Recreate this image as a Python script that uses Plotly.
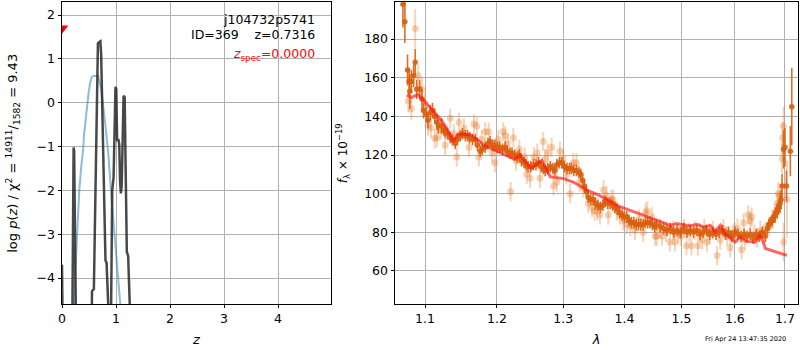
import plotly.graph_objects as go

# ---------------- left panel data: log p(z) ----------------
z_chi = [0.0, 0.005, 0.012, 0.19, 0.205, 0.215, 0.225, 0.245, 0.26, 0.55, 0.555, 0.59, 0.605,
         0.64, 0.665, 0.685, 0.71, 0.725, 0.76, 0.795, 0.805, 0.825, 0.84, 0.875, 0.905, 0.93,
         0.955, 0.975, 0.99, 1.005, 1.02, 1.045, 1.06, 1.075, 1.09, 1.105, 1.13, 1.14, 1.16,
         1.19, 1.2, 1.225, 1.26, 1.27, 4.98]
logp_chi = [-3.7, -4.4, -5.2, -5.2, -2.5, -1.02, -1.1, -3.5, -5.2, -5.2, -4.3, -4.25, -3.0,
            -0.5, 1.35, 1.38, 1.4, 1.1, -1.2, -2.9, -3.6, -3.65, -4.0, -5.2, -5.2, -2.0,
            -1.7, 0.0, 0.36, 0.3, -0.85, -0.85, -0.95, -1.8, -2.07, -1.9, 0.0, 0.16, 0.12,
            -2.2, -3.4, -3.5, -4.6, -5.2, -5.2]

z_pz = [0.21, 0.24, 0.28, 0.32, 0.36, 0.39, 0.41, 0.46, 0.49, 0.52, 0.55, 0.58, 0.67,
        0.70, 0.73, 0.80, 0.86, 0.92, 0.98, 1.04, 1.09, 1.12]
logp_pz = [-5.2, -4.0, -3.0, -2.0, -1.4, -1.09, -0.71, -0.1, 0.2, 0.45, 0.58, 0.61, 0.61,
           0.45, 0.27, -0.48, -1.2, -2.23, -3.1, -3.9, -4.6, -5.2]

z_spec_marker = [0.0]
logp_spec_marker = [1.7]

# ---------------- right panel data: spectrum ----------------
lam_dark = [1.071, 1.0735, 1.077, 1.079, 1.080, 1.082, 1.085, 1.087, 1.089, 1.093, 1.096, 1.098,
            1.102, 1.104, 1.107, 1.110, 1.113, 1.116, 1.118, 1.122, 1.125, 1.127, 1.130, 1.134,
            1.137, 1.141, 1.144, 1.148, 1.151, 1.155, 1.158, 1.161, 1.165, 1.169, 1.172, 1.176,
            1.179, 1.183, 1.187, 1.190, 1.194, 1.197, 1.201, 1.204, 1.208, 1.212, 1.215, 1.219,
            1.222, 1.226, 1.230, 1.233, 1.236, 1.240, 1.243, 1.246, 1.250, 1.254, 1.258, 1.262,
            1.266, 1.269, 1.272, 1.276, 1.280, 1.284, 1.287, 1.290, 1.294, 1.298, 1.302, 1.306,
            1.310, 1.313, 1.317, 1.321, 1.325, 1.328, 1.331, 1.334, 1.337, 1.340, 1.344, 1.348,
            1.352, 1.356, 1.360, 1.364, 1.368, 1.372, 1.376, 1.380, 1.384, 1.388, 1.392, 1.396,
            1.400, 1.404, 1.408, 1.412, 1.416, 1.420, 1.424, 1.428, 1.432, 1.436, 1.440, 1.444,
            1.448, 1.452, 1.455, 1.462, 1.468, 1.474, 1.480, 1.486, 1.492, 1.498, 1.504, 1.510,
            1.516, 1.522, 1.528, 1.534, 1.540, 1.546, 1.552, 1.558, 1.564, 1.570, 1.576, 1.582,
            1.588, 1.594, 1.600, 1.606, 1.612, 1.618, 1.624, 1.630, 1.636, 1.642, 1.648, 1.654,
            1.660, 1.664, 1.667, 1.670, 1.674, 1.677, 1.680, 1.684, 1.687, 1.690, 1.692, 1.694,
            1.697, 1.700, 1.703, 1.711, 1.714]
flux_dark = [198, 189, 164, 158, 153, 158, 161, 168, 154, 154, 149, 143,
             141, 138, 142, 143, 140, 137, 135, 135, 133, 132, 131, 129,
             128, 126, 128, 130, 131, 130, 130, 129, 128, 128, 125, 122,
             123, 124, 126, 127, 125, 125, 124, 124, 123, 124, 122, 121,
             121, 120, 119, 120, 117, 116, 115, 114, 114, 115, 115, 116,
             114, 113, 112, 113, 114, 113, 112, 115, 116, 116, 114, 113,
             113, 113, 112, 112, 111, 110, 107, 104, 101, 98, 97, 97,
             95, 94, 93, 94, 96, 95, 95, 94, 93, 92, 90, 89,
             88, 88, 86, 85, 85, 84, 84, 84, 84, 85, 85, 85,
             84, 83, 84, 83, 82, 81, 82, 80, 81, 80, 82, 80,
             81, 80, 81, 79, 80, 81, 79, 80, 79, 80, 81, 79,
             80, 78, 80, 79, 78, 79, 78, 79, 77, 79, 78, 80,
             78, 82, 84, 85, 86, 88, 89, 91, 93, 95, 97, 104,
             123, 124, 104, 122, 145]
err_dark = [12, 11, 8, 7, 9, 6, 6, 7, 5, 5, 5, 4,
            4, 4, 4, 4, 4, 4, 4, 4, 3, 3, 3, 3,
            3, 3, 3, 3, 3, 3, 3, 3, 3, 3, 3, 3,
            3, 3, 3, 3, 3, 3, 3, 3, 3, 3, 3, 3,
            3, 3, 3, 3, 3, 3, 3, 3, 3, 3, 3, 3,
            3, 3, 3, 3, 3, 3, 3, 3, 3, 3, 3, 3,
            3, 3, 3, 3, 3, 3, 3, 3, 3, 3, 3, 3,
            3, 3, 3, 3, 3, 3, 3, 3, 3, 3, 3, 3,
            3, 3, 3, 3, 3, 3, 3, 3, 3, 3, 3, 3,
            3, 3, 3, 3, 3, 3, 3, 3, 3, 3, 3, 3,
            3, 3, 3, 3, 3, 3, 3, 3, 3, 3, 3, 3,
            3, 3, 3, 3, 3, 3, 3, 3, 3, 3, 3, 3,
            3, 3, 3, 3, 3, 3, 4, 4, 4, 5, 5, 6,
            10, 10, 8, 13, 20]

lam_light = [1.078, 1.082, 1.087, 1.091, 1.096, 1.100, 1.104, 1.108, 1.113, 1.116, 1.121, 1.127,
             1.134, 1.139, 1.143, 1.146, 1.153, 1.160, 1.167, 1.171, 1.174, 1.178, 1.183, 1.188,
             1.193, 1.197, 1.202, 1.209, 1.212, 1.216, 1.220, 1.224, 1.228, 1.233, 1.241, 1.244,
             1.249, 1.255, 1.260, 1.264, 1.269, 1.272, 1.276, 1.282, 1.285, 1.290, 1.295, 1.300,
             1.305, 1.311, 1.316, 1.321, 1.326, 1.332, 1.340, 1.346, 1.350, 1.354, 1.359, 1.365,
             1.370, 1.373, 1.378, 1.381, 1.387, 1.392, 1.398, 1.404, 1.410, 1.418, 1.425, 1.432,
             1.436, 1.439, 1.447, 1.453, 1.456, 1.461, 1.465, 1.472, 1.479, 1.485, 1.488, 1.494,
             1.499, 1.505, 1.509, 1.514, 1.518, 1.524, 1.530, 1.534, 1.538, 1.542, 1.547, 1.552,
             1.558, 1.566, 1.572, 1.578, 1.585, 1.591, 1.596, 1.600, 1.605, 1.613, 1.617, 1.620,
             1.626, 1.630, 1.633, 1.638, 1.644, 1.650, 1.656, 1.660, 1.668, 1.675, 1.680, 1.684,
             1.686, 1.690, 1.694, 1.695, 1.697, 1.697, 1.704]
flux_light = [148, 144, 185.5, 161, 154, 147, 135, 134, 128.5, 129, 133, 125,
              139, 131, 119, 137, 134, 124, 136, 135, 119, 128, 132, 132,
              121, 116, 128, 132, 130, 126, 101, 129, 117, 123, 119, 110,
              108, 119, 121, 108, 127, 118, 121, 124, 104, 106, 122, 118,
              110, 100, 116, 116, 106, 103, 95, 93, 91, 91, 89, 102,
              99, 89, 97, 97, 91, 89, 86, 84, 83, 81, 87, 80,
              90, 91, 88, 78, 78, 82, 78, 80, 75, 81, 75, 79,
              78, 82, 73, 80, 73, 81, 73, 80, 76, 82, 75, 79,
              81, 68, 76, 82, 78, 72, 79, 80, 82, 71, 85, 76,
              89, 86, 88, 79, 77, 81, 79, 80, 83, 87, 90, 95,
              100, 99, 118, 129, 135, 75, 97]
err_light = [6, 6, 10, 6, 6, 5, 5, 5, 5, 5, 5, 5,
             5, 5, 5, 5, 5, 5, 5, 5, 5, 5, 5, 5,
             5, 5, 5, 5, 5, 5, 5, 5, 5, 5, 5, 5,
             5, 5, 5, 5, 5, 5, 5, 5, 5, 5, 5, 5,
             5, 5, 5, 5, 5, 5, 5, 5, 5, 5, 5, 5,
             5, 5, 5, 5, 5, 5, 5, 5, 5, 5, 5, 5,
             5, 5, 5, 5, 5, 5, 5, 5, 5, 5, 5, 5,
             5, 5, 5, 5, 5, 5, 5, 5, 5, 5, 5, 5,
             5, 5, 5, 5, 5, 5, 5, 5, 5, 5, 5, 5,
             5, 5, 5, 5, 5, 5, 5, 5, 5, 5, 5, 5,
             6, 6, 8, 8, 10, 10, 20]

lam_model = [1.076, 1.082, 1.091, 1.104, 1.122, 1.131, 1.138, 1.145, 1.164, 1.182, 1.207, 1.226,
             1.234, 1.251, 1.267, 1.280, 1.301, 1.316, 1.338, 1.357, 1.373, 1.390, 1.425, 1.456,
             1.480, 1.491, 1.516, 1.528, 1.541, 1.553, 1.562, 1.572, 1.581, 1.601, 1.610, 1.623,
             1.640, 1.649, 1.656, 1.660, 1.677, 1.704]
flux_model = [151, 149.8, 151.3, 145.8, 138, 132.8, 126.8, 131, 130.3, 125, 120.8, 117.8,
              119.9, 113, 117.3, 108.7, 107.8, 106, 101.8, 99.2, 96.6, 93.5, 89.7, 86.2,
              83.6, 84.5, 83.3, 84.1, 82.7, 83.6, 80.2, 83.6, 79.3, 75, 77.6, 75.3,
              75, 78.4, 75, 71.6, 70.3, 68.1]

lam_ticks = [1.1, 1.2, 1.3, 1.4, 1.5, 1.6, 1.7]
lam_ticktext = ["1.1", "1.2", "1.3", "1.4", "1.5", "1.6", "1.7"]
flux_ticks = [60, 80, 100, 120, 140, 160, 180]
z_ticks = [0, 1, 2, 3, 4]
logp_ticks = [-4, -3, -2, -1, 0, 1, 2]
logp_ticktext = ["\u22124", "\u22123", "\u22122", "\u22121", "0", "1", "2"]

FONT = "DejaVu Sans"
GRID = "#b0b0b0"
ORANGE = "rgba(217,95,14,0.9)"
ORANGE_LIGHT = "rgba(230,120,40,0.33)"

fig = go.Figure()

fig.add_trace(go.Scatter(x=z_pz, y=logp_pz, mode="lines",
                         line=dict(color="rgba(31,119,180,0.5)", width=2),
                         xaxis="x", yaxis="y", showlegend=False))
fig.add_trace(go.Scatter(x=z_chi, y=logp_chi, mode="lines",
                         line=dict(color="rgba(40,40,40,0.85)", width=2.5),
                         xaxis="x", yaxis="y", showlegend=False))
fig.add_trace(go.Scatter(x=z_spec_marker, y=logp_spec_marker, mode="markers",
                         marker=dict(symbol="triangle-down", color="red", size=11),
                         xaxis="x", yaxis="y", showlegend=False))

fig.add_trace(go.Scatter(x=lam_light, y=flux_light, mode="markers",
                         marker=dict(color=ORANGE_LIGHT, size=7),
                         error_y=dict(type="data", array=err_light, color=ORANGE_LIGHT,
                                      thickness=2, width=0),
                         xaxis="x2", yaxis="y2", showlegend=False))
fig.add_trace(go.Scatter(x=lam_dark, y=flux_dark, mode="markers",
                         marker=dict(color=ORANGE, size=5.5),
                         error_y=dict(type="data", array=err_dark, color=ORANGE,
                                      thickness=1.6, width=0),
                         xaxis="x2", yaxis="y2", showlegend=False))
fig.add_trace(go.Scatter(x=lam_model, y=flux_model, mode="lines",
                         line=dict(color="rgba(255,20,20,0.65)", width=3),
                         xaxis="x2", yaxis="y2", showlegend=False))

axis_common = dict(showgrid=True, gridcolor=GRID, gridwidth=0.8, zeroline=False,
                   showline=True, linecolor="black", linewidth=1, mirror=True,
                   ticks="outside", ticklen=3.5, tickwidth=0.8, tickcolor="black",
                   automargin=False,
                   tickfont=dict(family=FONT, size=12.5, color="black"))

fig.update_layout(
    width=800, height=350,
    margin=dict(l=0, r=0, t=0, b=0),
    paper_bgcolor="white", plot_bgcolor="white",
    font=dict(family=FONT, color="black"),
    xaxis=dict(domain=[0.0775, 0.41375], range=[0, 4.98], tickvals=z_ticks,
               title=dict(text="<i>z</i>", font=dict(size=13), standoff=9),
               anchor="y", **axis_common),
    yaxis=dict(domain=[0.13143, 0.99429], range=[-4.593, 2.297], tickvals=logp_ticks,
               ticktext=logp_ticktext, anchor="x", **axis_common),
    xaxis2=dict(domain=[0.49375, 0.9975], type="log", range=[0.02563, 0.23728],
                tickvals=lam_ticks, ticktext=lam_ticktext,
                title=dict(text="<i>λ</i>", font=dict(size=13), standoff=9),
                anchor="y2", **axis_common),
    yaxis2=dict(domain=[0.13143, 0.99429], range=[42.9, 199.2], tickvals=flux_ticks,
                anchor="x2", **axis_common),
    annotations=[
        dict(text="log <i>p</i>(<i>z</i>) / χ<sup>2</sup> = <sup>14911</sup>/<sub>1582</sub> = 9.43",
             xref="paper", yref="paper", x=0.016, y=0.563, textangle=-90,
             xanchor="center", yanchor="middle", showarrow=False,
             font=dict(family=FONT, size=13, color="black")),
        dict(text="<i>f</i><sub>λ</sub> × 10<sup>−19</sup>",
             xref="paper", yref="paper", x=0.429, y=0.563, textangle=-90,
             xanchor="center", yanchor="middle", showarrow=False,
             font=dict(family=FONT, size=12, color="black")),
        dict(text="j104732p5741", xref="paper", yref="paper", x=0.396, y=0.943,
             xanchor="right", yanchor="middle", showarrow=False,
             font=dict(family=FONT, size=12.5, color="black")),
        dict(text="ID=369\u00a0\u00a0\u00a0\u00a0z=0.7316", xref="paper", yref="paper", x=0.396, y=0.9,
             xanchor="right", yanchor="middle", showarrow=False,
             font=dict(family=FONT, size=12.5, color="black")),
        dict(text="<i>z</i><sub>spec</sub>=0.0000", xref="paper", yref="paper", x=0.396, y=0.845,
             xanchor="right", yanchor="middle", showarrow=False,
             font=dict(family=FONT, size=12.5, color="red")),
        dict(text="Fri Apr 24 13:47:35 2020", xref="paper", yref="paper", x=0.985, y=0.031,
             xanchor="right", yanchor="middle", showarrow=False,
             font=dict(family=FONT, size=6.5, color="black")),
    ],
)

fig.write_html("out.html", config={"displayModeBar": False},
               post_script="document.body.style.margin='0';")
